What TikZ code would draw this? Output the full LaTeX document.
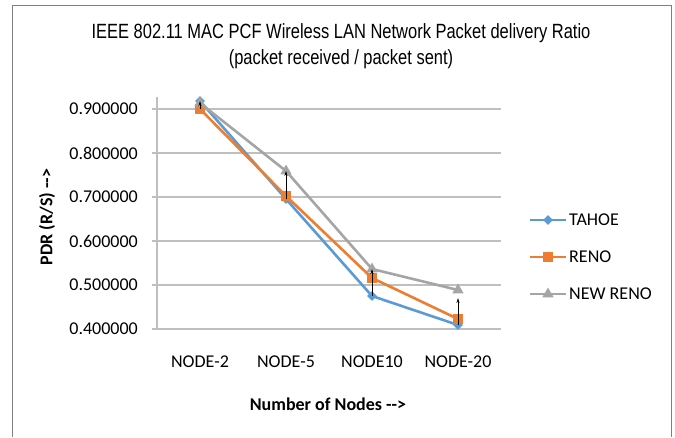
\documentclass[tikz,border=0pt]{standalone}
\usepackage{fontspec}
\setmainfont{Carlito}
\newfontfamily\titlefont{Liberation Sans}[FakeStretch=0.80]
\usetikzlibrary{arrows.meta,shapes.geometric}
\definecolor{tahoeblue}{RGB}{91,155,213}
\definecolor{renoorange}{RGB}{237,125,49}
\definecolor{newrenogray}{RGB}{165,165,165}
\definecolor{gridgray}{RGB}{191,191,191}

\begin{document}
\begin{tikzpicture}[x=1pt,y=-1pt,
			grid line/.style={draw=gridgray,line width=1.2pt},
			tick label/.style={anchor=east,inner sep=0pt,font=\fontsize{18}{20}\selectfont},
			cat label/.style={anchor=center,inner sep=0pt,font=\fontsize{18}{20}\selectfont},
			axis title/.style={inner sep=0pt,font=\fontsize{18}{20}\selectfont\bfseries},
			series/.style={line width=2.6pt,line join=round},
			tahoe mark/.style={diamond,fill=tahoeblue,inner sep=0pt,minimum size=10pt},
			reno mark/.style={rectangle,fill=renoorange,inner sep=0pt,minimum size=10pt},
			newreno mark/.style={regular polygon,regular polygon sides=3,fill=newrenogray,inner sep=0pt,minimum size=13pt},
			hilo/.style={draw=black,line width=0.8pt,-{Stealth[length=5pt,width=3pt]}}]
			
			\useasboundingbox (0,0) rectangle (675,437);
			\draw[gray,line width=1pt] (12,437) -- (12,5) -- (671,5) -- (671,437);
			
			% title
			\node[font=\titlefont\fontsize{20.6}{22}\selectfont] (Title1) at (341,33) {IEEE 802.11 MAC PCF Wireless LAN Network Packet delivery Ratio};
			\node[font=\titlefont\fontsize{20.6}{22}\selectfont] (Title2) at (341,59) {(packet received / packet sent)};
			
			% grid and axes
			\draw[grid line] (152,109) -- (501,109);
			\draw[grid line] (152,153) -- (501,153);
			\draw[grid line] (152,197) -- (501,197);
			\draw[grid line] (152,241) -- (501,241);
			\draw[grid line] (152,285) -- (501,285);
			\draw[grid line] (152,329) -- (501,329);
			\draw[grid line] (157,97) -- (157,329);
			
			\node[tick label] (Y9) at (138,109) {0.900000};
			\node[tick label] (Y8) at (138,153) {0.800000};
			\node[tick label] (Y7) at (138,197) {0.700000};
			\node[tick label] (Y6) at (138,241) {0.600000};
			\node[tick label] (Y5) at (138,285) {0.500000};
			\node[tick label] (Y4) at (138,329) {0.400000};
			
			\node[cat label] (C2) at (200,362) {NODE-2};
			\node[cat label] (C5) at (286,362) {NODE-5};
			\node[cat label] (C10) at (372,362) {NODE10};
			\node[cat label] (C20) at (458,362) {NODE-20};
			
			\node[axis title] (XTitle) at (328,404) {Number of Nodes -{}->};
			\node[axis title,rotate=90] (YTitle) at (47,217) {PDR (R/S) -{}->};
			
			% data points
			\coordinate (T2) at (200,101);
			\coordinate (T5) at (286,199);
			\coordinate (T10) at (372,296);
			\coordinate (T20) at (458,325);
			\coordinate (R2) at (200,109);
			\coordinate (R5) at (286,196);
			\coordinate (R10) at (372,278);
			\coordinate (R20) at (458,319);
			\coordinate (N2) at (200,103);
			\coordinate (N5) at (286,171);
			\coordinate (N10) at (372,269);
			\coordinate (N20) at (458,290);
			
			\draw[series,tahoeblue] (T2) -- (T5) -- (T10) -- (T20);
			\node[tahoe mark] at (T2) {};
			\node[tahoe mark] at (T5) {};
			\node[tahoe mark] at (T10) {};
			\node[tahoe mark] at (T20) {};
			
			\draw[series,renoorange] (R2) -- (R5) -- (R10) -- (R20);
			\node[reno mark] at (R2) {};
			\node[reno mark] at (R5) {};
			\node[reno mark] at (R10) {};
			\node[reno mark] at (R20) {};
			
			\draw[series,newrenogray] (N2) -- (N5) -- (N10) -- (N20);
			\node[newreno mark] at (N2) {};
			\node[newreno mark] at (N5) {};
			\node[newreno mark] at (N10) {};
			\node[newreno mark] at (N20) {};
			
			% high-low lines
			\draw[hilo] (R2) -- (T2);
			\draw[hilo] (T5) -- (N5);
			\draw[hilo] (T10) -- (N10);
			\draw[hilo] (T20) -- ([yshift=-8pt]N20);
			
			% legend
			\coordinate (LT1) at (530,220); \coordinate (LT2) at (566,220);
			\coordinate (LR1) at (530,257); \coordinate (LR2) at (566,257);
			\coordinate (LN1) at (530,294); \coordinate (LN2) at (566,294);
			\draw[series,tahoeblue] (LT1) -- (LT2);
			\node[tahoe mark] at (548,220) {};
			\draw[series,renoorange] (LR1) -- (LR2);
			\node[reno mark] at (548,257) {};
			\draw[series,newrenogray] (LN1) -- (LN2);
			\node[newreno mark] at (548,294) {};
			\node[anchor=west,inner sep=0pt,font=\fontsize{18}{20}\selectfont] (LegT) at (569,220) {TAHOE};
			\node[anchor=west,inner sep=0pt,font=\fontsize{18}{20}\selectfont] (LegR) at (569,257) {RENO};
			\node[anchor=west,inner sep=0pt,font=\fontsize{18}{20}\selectfont] (LegN) at (569,294) {NEW RENO};
\end{tikzpicture}
\end{document}
